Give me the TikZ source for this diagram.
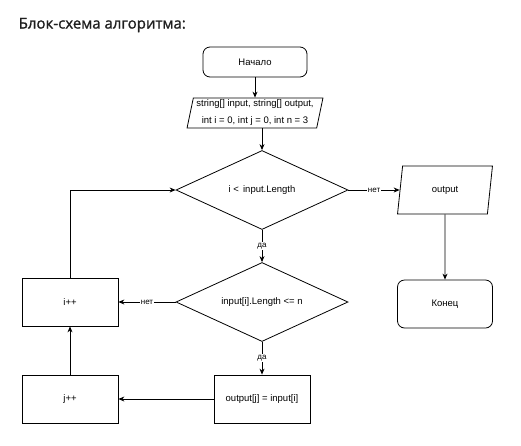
\documentclass[tikz,border=0pt]{standalone}
\usepackage{fontspec}
\setmainfont{Liberation Sans}
\newfontfamily\titlefont[FakeBold=1.2]{Open Sans}
\usetikzlibrary{shapes.geometric,arrows.meta}
\begin{document}
\begin{tikzpicture}[x=1pt,y=-1pt,
    line width=0.8pt,
    every node/.style={font=\fontsize{9.5}{17}\selectfont},
    flowarrow/.style={-{Stealth[length=6pt,width=5pt]}},
    termbox/.style={draw,rounded corners=7pt,inner sep=0pt},
    procbox/.style={draw,minimum width=96pt,minimum height=48pt,inner sep=0pt},
    iobox/.style={draw,trapezium,trapezium stretches=true,inner sep=0pt},
    testbox/.style={draw,diamond,shape aspect=2.2,inner sep=1pt,
      minimum width=172pt,minimum height=79pt},
    edgelabel/.style={fill=white,inner sep=1pt,font=\fontsize{8}{9}\selectfont}]
    \useasboundingbox (0,0) rectangle (521,445);

    % Title
    \node[anchor=west,font=\titlefont\fontsize{15}{17}\selectfont,text=black!88] (title) at (15,25) {Блок-схема алгоритма:};

    % Main column
    \node[termbox,minimum width=104pt,minimum height=30pt] (start) at (255,62) {Начало};
    \node[iobox,trapezium left angle=77,trapezium right angle=103,
      minimum width=136pt,minimum height=30pt,align=center] (init) at (255,113)
      {string[] input, string[] output,\\int i = 0, int j = 0, int n = 3};
    \node[testbox] (loop) at (262,190) {i <\, input.Length};
    \node[testbox] (check) at (262,302) {input[i].Length <= n};
    \node[procbox] (assign) at (262,399) {output[j] = input[i]};

    % Left column
    \node[procbox] (inci) at (70,302) {i++};
    \node[procbox] (incj) at (70,399) {j++};

    % Right column
    \node[iobox,trapezium left angle=79,trapezium right angle=101,
      minimum width=95pt,minimum height=48pt] (result) at (445,190) {output};
    \node[termbox,minimum width=95pt,minimum height=48pt] (stop) at (445,304) {Конец};

    % Connectors
    \draw[flowarrow] (start) -- (init);
    \draw[flowarrow] (init.south -| loop.north) -- (loop.north);
    \draw[flowarrow] (loop.east) -- node[edgelabel] {нет} (result.west);
    \draw[flowarrow] (result.south) -- (stop.north);
    \draw[flowarrow] (loop.south) -- node[edgelabel] {да} (check.north);
    \draw[flowarrow] (check.west) -- node[edgelabel] {нет} (inci.east);
    \draw[flowarrow] (check.south) -- node[edgelabel] {да} (assign.north);
    \draw[flowarrow] (assign.west) -- (incj.east);
    \draw[flowarrow] (incj.north) -- (inci.south);
    \draw[flowarrow] (inci.north) |- (loop.west);
  \end{tikzpicture}
\end{document}
